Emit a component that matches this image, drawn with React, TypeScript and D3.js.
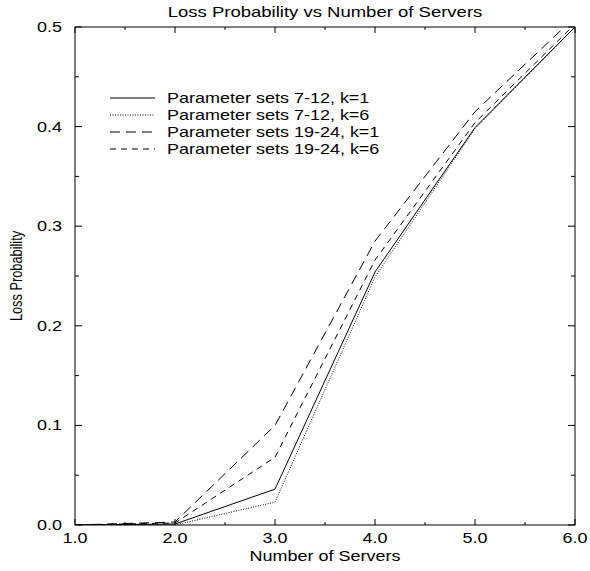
import React from "react";
import * as d3 from "d3";

const servers = [1, 2, 3, 4, 5, 6];
const set712k1 = [0.0, 0.001, 0.036, 0.254, 0.399, 0.5];
const set712k6 = [0.0, 0.0, 0.023, 0.249, 0.398, 0.5];
const set1924k1 = [0.0, 0.003, 0.1, 0.285, 0.415, 0.51];
const set1924k6 = [0.0, 0.002, 0.068, 0.266, 0.404, 0.503];

const seriesNames = [
  "Parameter sets 7-12, k=1",
  "Parameter sets 7-12, k=6",
  "Parameter sets 19-24, k=1",
  "Parameter sets 19-24, k=6",
];
const seriesValues = [set712k1, set712k6, set1924k1, set1924k6];
const dashes = ["none", "1,1.5", "10,6", "6,5"];

const xTicks = [1, 2, 3, 4, 5, 6];
const xMinor = [1.5, 2.5, 3.5, 4.5, 5.5];
const yTicks = [0, 0.1, 0.2, 0.3, 0.4, 0.5];
const yMinor = [0.05, 0.15, 0.25, 0.35, 0.45];

const W = 590;
const H = 571;
const L = 75, R = 575, T = 27, B = 525;
const font = "'Liberation Sans', Arial, sans-serif";
const VS = 0.8; // vertical squash of text glyphs

function Txt(props: {
  x: number;
  y: number;
  size: number;
  anchor?: "start" | "middle" | "end";
  rotate?: number;
  children: React.ReactNode;
}) {
  const { x, y, size, anchor = "start", rotate = 0, children } = props;
  return (
    <text
      transform={`translate(${x},${y}) scale(1,${VS})${rotate ? ` rotate(${rotate})` : ""}`}
      textAnchor={anchor}
      fontSize={size}
      fill="#000"
    >
      {children}
    </text>
  );
}

export default function App() {
  const x = d3.scaleLinear().domain([1, 6]).range([L, R]);
  const y = d3.scaleLinear().domain([0, 0.5]).range([B, T]);
  const line = d3
    .line<[number, number]>()
    .x((d) => x(d[0]))
    .y((d) => y(d[1]));

  return (
    <svg
      width={W}
      height={H}
      style={{ position: "absolute", left: 0, top: 0, background: "#fff" }}
      fontFamily={font}
    >
      <defs>
        <clipPath id="plotclip">
          <rect x={L} y={T} width={R - L} height={B - T} />
        </clipPath>
      </defs>
      <rect x={0} y={0} width={W} height={H} fill="#fff" />
      <Txt x={(L + R) / 2} y={17} size={18.5} anchor="middle">
        Loss Probability vs Number of Servers
      </Txt>
      {/* ticks */}
      {xTicks.map((t) => (
        <g key={"xt" + t}>
          <line x1={x(t)} x2={x(t)} y1={B} y2={B - 6} stroke="#000" />
          <line x1={x(t)} x2={x(t)} y1={T} y2={T + 6} stroke="#000" />
          <Txt x={x(t)} y={B + 18} size={18} anchor="middle">
            {t.toFixed(1)}
          </Txt>
        </g>
      ))}
      {xMinor.map((t) => (
        <g key={"xm" + t}>
          <line x1={x(t)} x2={x(t)} y1={B} y2={B - 3} stroke="#000" />
          <line x1={x(t)} x2={x(t)} y1={T} y2={T + 3} stroke="#000" />
        </g>
      ))}
      {yTicks.map((t) => (
        <g key={"yt" + t}>
          <line x1={L} x2={L + 7} y1={y(t)} y2={y(t)} stroke="#000" />
          <line x1={R} x2={R - 7} y1={y(t)} y2={y(t)} stroke="#000" />
          <Txt x={L - 13} y={y(t) + 5} size={18} anchor="end">
            {t.toFixed(1)}
          </Txt>
        </g>
      ))}
      {yMinor.map((t) => (
        <g key={"ym" + t}>
          <line x1={L} x2={L + 4} y1={y(t)} y2={y(t)} stroke="#000" />
          <line x1={R} x2={R - 4} y1={y(t)} y2={y(t)} stroke="#000" />
        </g>
      ))}
      {/* series */}
      <g clipPath="url(#plotclip)">
        {seriesValues.map((vals, i) => (
          <path
            key={"s" + i}
            d={line(servers.map((s, j) => [s, vals[j]] as [number, number])) || ""}
            fill="none"
            stroke="#000"
            strokeWidth={1}
            strokeDasharray={dashes[i]}
          />
        ))}
      </g>
      <rect x={L} y={T} width={R - L} height={B - T} fill="none" stroke="#000" strokeWidth={1} />
      {/* legend */}
      {seriesNames.map((n, i) => (
        <g key={"lg" + i}>
          <line
            x1={110}
            x2={155}
            y1={98 + i * 17}
            y2={98 + i * 17}
            stroke="#000"
            strokeDasharray={dashes[i]}
          />
          <Txt x={167} y={98 + i * 17 + 5} size={18}>
            {n}
          </Txt>
        </g>
      ))}
      <Txt x={(L + R) / 2} y={561} size={18} anchor="middle">
        Number of Servers
      </Txt>
      <Txt x={22} y={(T + B) / 2} size={16} anchor="middle" rotate={-90}>
        Loss Probability
      </Txt>
    </svg>
  );
}
